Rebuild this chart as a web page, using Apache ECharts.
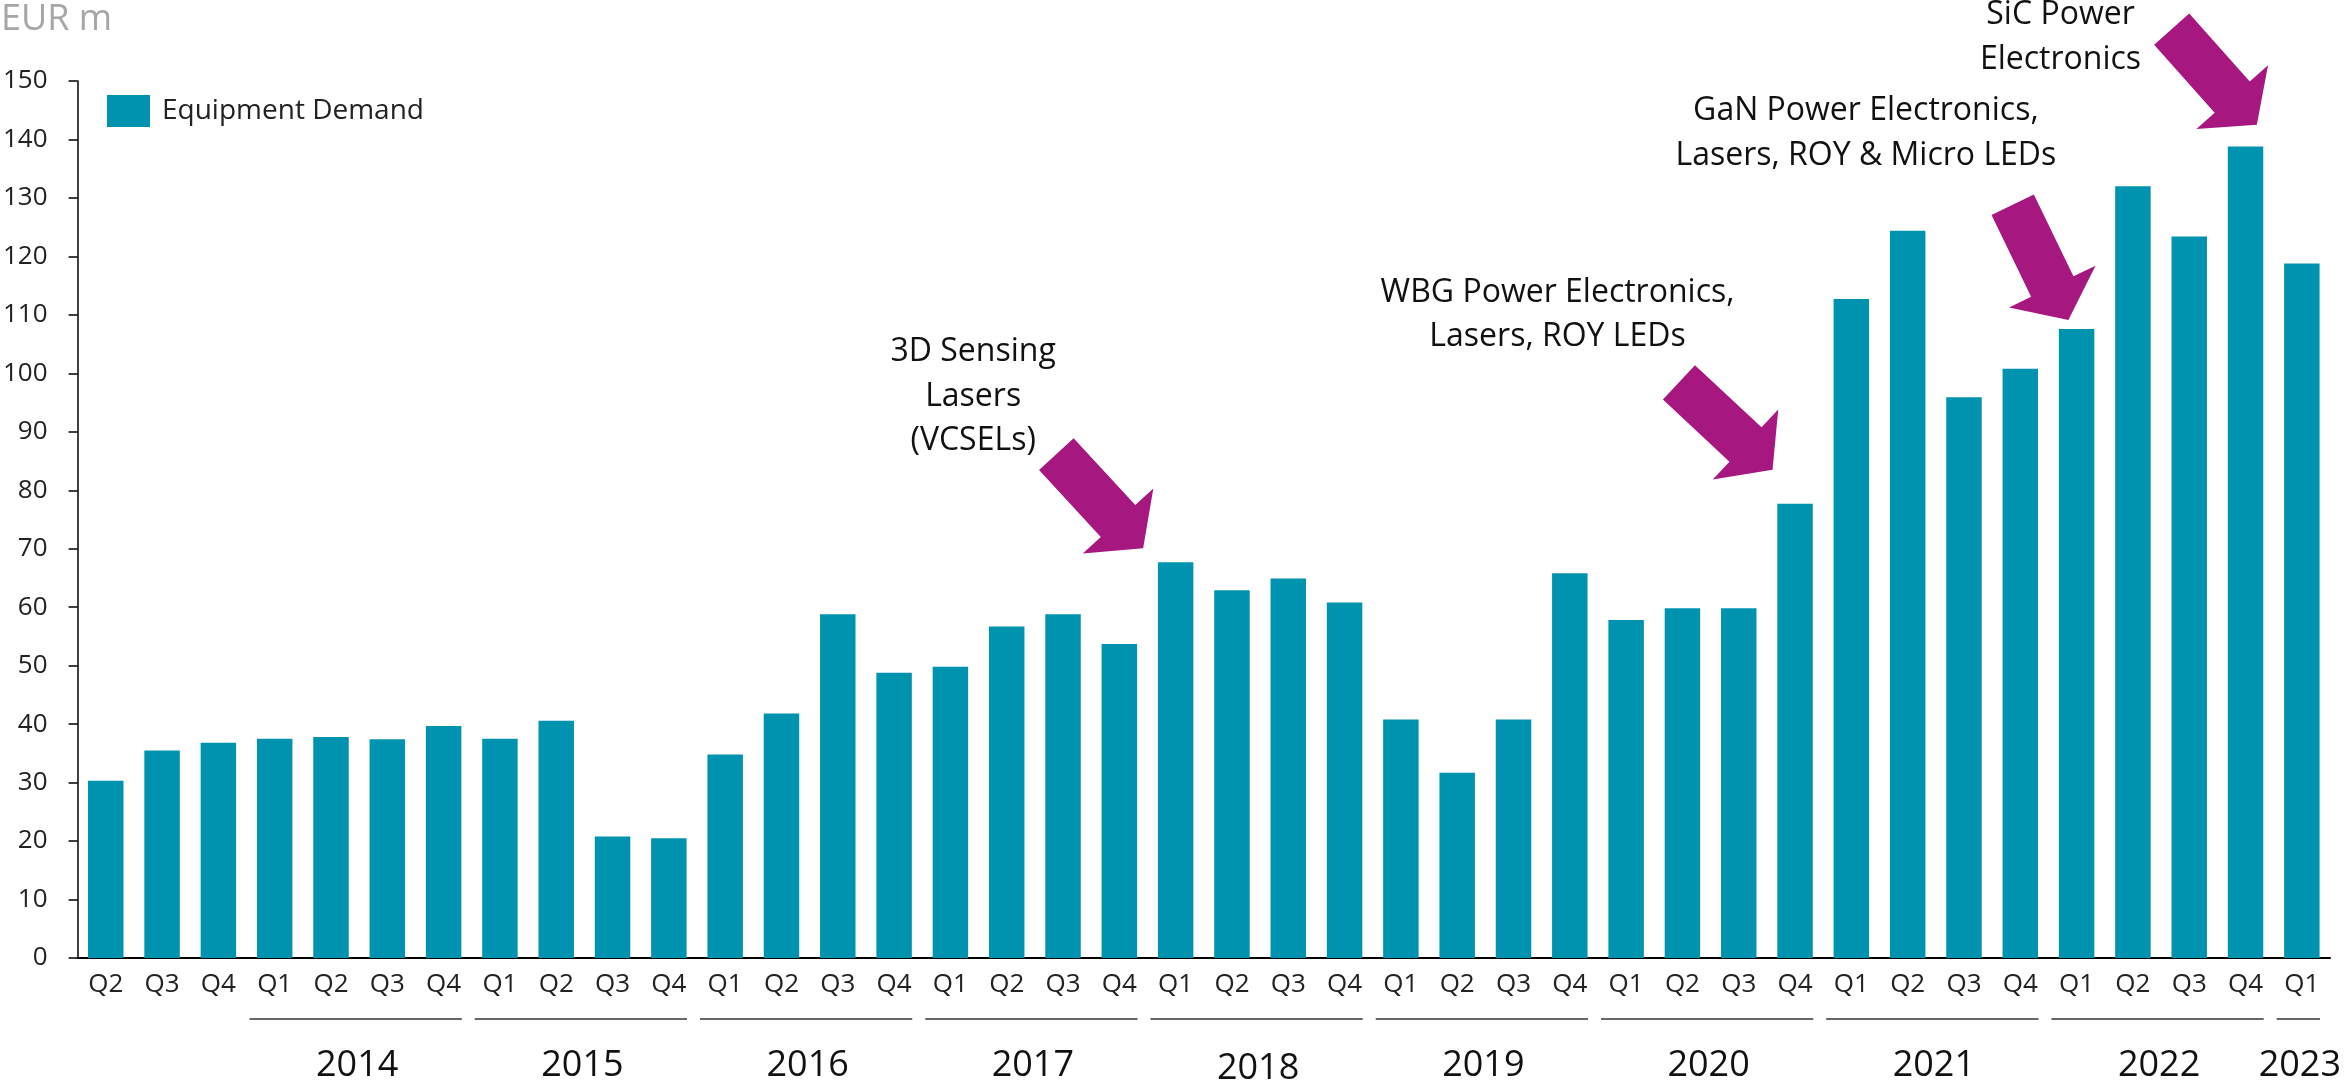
<!DOCTYPE html>
<html><head><meta charset="utf-8">
<script src="https://cdn.jsdelivr.net/npm/echarts@6/dist/echarts.min.js"></script>
<style>html,body{margin:0;padding:0;background:#fff}#c{width:2348px;height:1087px}</style>
</head><body><div id="c"></div>
<script>
// ---------- DATA ----------
const categories = [
  'Q2','Q3','Q4',
  'Q1','Q2','Q3','Q4',
  'Q1','Q2','Q3','Q4',
  'Q1','Q2','Q3','Q4',
  'Q1','Q2','Q3','Q4',
  'Q1','Q2','Q3','Q4',
  'Q1','Q2','Q3','Q4',
  'Q1','Q2','Q3','Q4',
  'Q1','Q2','Q3','Q4',
  'Q1','Q2','Q3','Q4',
  'Q1'
];
const equipmentDemand = [
  30.3, 35.5, 36.8,
  37.5, 37.8, 37.4, 39.7,
  37.5, 40.6, 20.8, 20.5,
  34.8, 41.8, 58.8, 48.8,
  49.8, 56.7, 58.8, 53.7,
  67.7, 62.9, 64.9, 60.8,
  40.8, 31.7, 40.8, 65.8,
  57.8, 59.8, 59.8, 77.7,
  112.7, 124.4, 95.9, 100.8,
  107.6, 132.0, 123.4, 138.8,
  118.8
];
const years = ['2014','2015','2016','2017','2018','2019','2020','2021','2022','2023'];
const yTickInterval = 10;
const yMax = 150;
const seriesName = 'Equipment Demand';
const unitLabel = 'EUR m';
const annotations = [
  { target: 19, lines: ['3D Sensing', 'Lasers', '(VCSELs)'] },
  { target: 30, lines: ['WBG Power Electronics,', 'Lasers, ROY LEDs'] },
  { target: 35, lines: ['GaN Power Electronics,', 'Lasers, ROY & Micro LEDs'] },
  { target: 38, lines: ['SiC Power', 'Electronics'] }
];

// ---------- LAYOUT / STYLE ----------
const FONT = "'Open Sans', 'Noto Sans', sans-serif";
const BAR = '#0093B0';
const ARROW = '#A6177F';
const annLayout = [
  { textDx: -202.5, textDy: -199.6, tipDx: -32.5, tipDy: -14,   angle: 47.3 },
  { textDx: -237.5, textDy: -200.6, tipDx: -22.5, tipDy: -34,   angle: 43.0 },
  { textDx: -210.7, textDy: -207.3, tipDx: -8.2,  tipDy: -9,    angle: 64.2 },
  { textDx: -185,   textDy: -121,   tipDx: 11.3,  tipDy: -21.7, angle: 48.3 }
];
const ANN_FS = 32, ANN_LH = 44.5;
const YEAR_FS = 36;

const chart = echarts.init(document.getElementById('c'), null, { renderer: 'canvas' });
chart.setOption({
  animation: false,
  backgroundColor: '#fff',
  legend: {
    left: 107, top: 95, padding: 0,
    itemWidth: 43, itemHeight: 32,
    icon: 'rect',
    data: [seriesName],
    textStyle: { fontFamily: FONT, fontSize: 28, color: '#222', padding: [0, 0, 0, 7] }
  },
  grid: { left: 71, right: 18, top: 81, bottom: 129, containLabel: false },
  xAxis: {
    type: 'category',
    data: categories,
    boundaryGap: true,
    axisLine: { lineStyle: { color: '#000', width: 2 } },
    axisTick: { show: false },
    axisLabel: { fontFamily: FONT, fontSize: 26, color: '#222', margin: 14, interval: 0 }
  },
  yAxis: {
    type: 'value',
    min: 0, max: yMax, interval: yTickInterval,
    axisLine: { show: true, lineStyle: { color: '#000', width: 1.5 } },
    axisTick: { show: true, length: 9, lineStyle: { color: '#000', width: 1.5 } },
    splitLine: { show: false },
    axisLabel: { fontFamily: FONT, fontSize: 26, color: '#222', margin: 30 }
  },
  series: [{
    name: seriesName,
    type: 'bar',
    data: equipmentDemand,
    barWidth: '63%',
    itemStyle: { color: BAR }
  }]
});

function arrowPoints(tx, ty, angDeg) {
  const hl = 37, hw = 96, sw = 47, sl = 91;
  const a = angDeg * Math.PI / 180;
  const dx = Math.cos(a), dy = Math.sin(a);
  const nx = -dy, ny = dx;
  const bx = tx - hl * dx, by = ty - hl * dy;
  const kx = bx - sl * dx, ky = by - sl * dy;
  return [
    [kx + nx * sw / 2, ky + ny * sw / 2],
    [bx + nx * sw / 2, by + ny * sw / 2],
    [bx + nx * hw / 2, by + ny * hw / 2],
    [tx, ty],
    [bx - nx * hw / 2, by - ny * hw / 2],
    [bx - nx * sw / 2, by - ny * sw / 2],
    [kx - nx * sw / 2, ky - ny * sw / 2]
  ];
}

const graphics = [];
const px = (i, v) => chart.convertToPixel({ xAxisIndex: 0, yAxisIndex: 0 }, [i, v]);
const band = px(1, 0)[0] - px(0, 0)[0];
const baseY = px(0, 0)[1];

// Unit label
graphics.push({
  type: 'text', silent: true,
  x: 1, y: 31.5 - 0.33 * 36,
  style: { text: unitLabel, fontFamily: FONT, fontSize: 36, fill: '#A6A6A6',
           textAlign: 'left', textVerticalAlign: 'middle' }
});

// Year groups: a new year starts at each Q1
let yi = 0;
for (let i = 0; i < categories.length; i++) {
  if (categories[i] !== 'Q1') continue;
  let j = i;
  while (j + 1 < categories.length && categories[j + 1] !== 'Q1') j++;
  const left = px(i, 0)[0] - band / 2;
  const right = px(j, 0)[0] + band / 2;
  graphics.push({
    type: 'line', silent: true,
    shape: { x1: left + 3, y1: baseY + 61, x2: right - 10, y2: baseY + 61 },
    style: { stroke: '#333', lineWidth: 1.5 }
  });
  const cx = (px(i, 0)[0] + px(j, 0)[0]) / 2 - 2;
  graphics.push({
    type: 'text', silent: true,
    x: cx, y: baseY + 119.3 + (years[yi] === '2018' ? 3 : 0) - 0.33 * YEAR_FS,
    style: { text: years[yi], fontFamily: FONT, fontSize: YEAR_FS, fill: '#111',
             textAlign: 'center', textVerticalAlign: 'middle' }
  });
  yi++;
}

annotations.forEach((an, k) => {
  const L = annLayout[k];
  const p = px(an.target, equipmentDemand[an.target]);
  an.lines.forEach((ln, li) => {
    graphics.push({
      type: 'text', silent: true,
      x: p[0] + L.textDx,
      y: p[1] + L.textDy + li * ANN_LH - 0.33 * ANN_FS,
      style: { text: ln, fontFamily: FONT, fontSize: ANN_FS, fill: '#111',
               textAlign: 'center', textVerticalAlign: 'middle' }
    });
  });
  graphics.push({
    type: 'polygon', silent: true,
    shape: { points: arrowPoints(p[0] + L.tipDx, p[1] + L.tipDy, L.angle) },
    style: { fill: ARROW }
  });
});

chart.setOption({ graphic: graphics });
</script>
</body></html>
